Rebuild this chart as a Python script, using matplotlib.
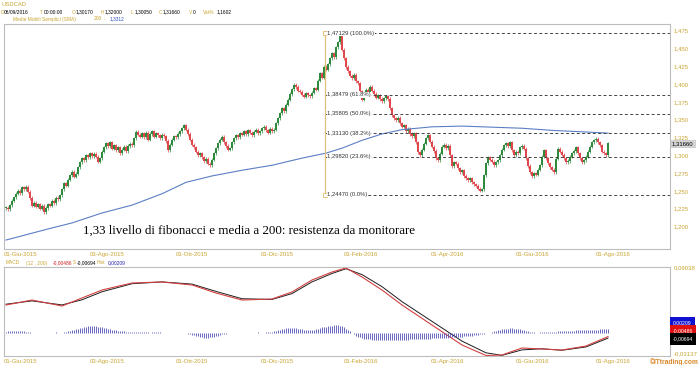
import numpy as np
import matplotlib.pyplot as plt

# USDCAD daily closes (one per candle)
closes = [
    1.226, 1.224, 1.230, 1.236, 1.241, 1.246,
    1.250, 1.247, 1.255, 1.252, 1.256,
    1.249, 1.240, 1.229,
    1.233, 1.228, 1.231, 1.225, 1.229, 1.220,
    1.226, 1.231, 1.229, 1.236, 1.233, 1.240, 1.238, 1.244,
    1.252, 1.261, 1.257, 1.266, 1.272, 1.277,
    1.270, 1.274, 1.283, 1.290,
    1.296, 1.293, 1.300, 1.297, 1.303, 1.299, 1.302, 1.298,
    1.291, 1.296, 1.305, 1.311,
    1.317, 1.313, 1.318, 1.309, 1.314, 1.307, 1.311, 1.303,
    1.308, 1.312, 1.306, 1.313, 1.316, 1.314,
    1.324, 1.333, 1.329, 1.326,
    1.331, 1.325, 1.332, 1.322, 1.330, 1.334, 1.326, 1.331, 1.328, 1.324, 1.329, 1.327,
    1.320, 1.307, 1.315,
    1.322, 1.327, 1.325, 1.330, 1.334, 1.338, 1.342,
    1.336, 1.330, 1.322, 1.315, 1.311,
    1.305, 1.300, 1.303, 1.297, 1.292, 1.295,
    1.288, 1.286,
    1.294, 1.303, 1.310, 1.317,
    1.322, 1.326, 1.318, 1.313, 1.308, 1.310,
    1.318, 1.324, 1.328, 1.325, 1.331,
    1.329, 1.334, 1.330, 1.335, 1.332, 1.328, 1.333, 1.336, 1.331, 1.334, 1.338, 1.340,
    1.335, 1.332, 1.337, 1.334, 1.336,
    1.345, 1.352, 1.359, 1.366, 1.362,
    1.371, 1.378, 1.386, 1.393, 1.399,
    1.396, 1.391, 1.389, 1.385, 1.382, 1.387, 1.384,
    1.383, 1.388, 1.394, 1.392,
    1.405, 1.415, 1.409, 1.424, 1.420,
    1.428, 1.436, 1.443, 1.438, 1.452, 1.459,
    1.467,
    1.448, 1.436, 1.424, 1.418,
    1.412, 1.408, 1.413, 1.404, 1.401,
    1.390, 1.378, 1.384,
    1.392, 1.389, 1.396, 1.391, 1.386,
    1.381, 1.384, 1.379, 1.376, 1.380,
    1.383, 1.379, 1.366, 1.356, 1.352,
    1.349, 1.353, 1.345, 1.340, 1.342,
    1.334, 1.337, 1.330, 1.327, 1.331,
    1.318, 1.304, 1.300, 1.308, 1.316,
    1.324, 1.328, 1.319, 1.312, 1.306,
    1.296, 1.293, 1.302,
    1.312, 1.315, 1.310, 1.313, 1.300,
    1.285, 1.290, 1.288, 1.282,
    1.276, 1.279, 1.271, 1.268,
    1.265, 1.268, 1.262, 1.259,
    1.257, 1.253, 1.250,
    1.252, 1.272, 1.289,
    1.297, 1.294, 1.291, 1.286, 1.290,
    1.293, 1.300, 1.308, 1.314,
    1.317, 1.313, 1.318, 1.307,
    1.300, 1.305, 1.303, 1.311,
    1.313, 1.309, 1.296, 1.285, 1.276,
    1.271, 1.275, 1.273, 1.280,
    1.286, 1.298, 1.307,
    1.296, 1.289, 1.283,
    1.280, 1.276, 1.295, 1.309,
    1.305, 1.301, 1.296, 1.290,
    1.292, 1.298, 1.303, 1.306,
    1.311, 1.303, 1.296,
    1.290, 1.293, 1.298,
    1.305, 1.312, 1.318, 1.321,
    1.323, 1.318, 1.314,
    1.305, 1.303, 1.3005, 1.3166,
]

# 200-day simple moving average (candle index, value)
sma_idx = [0, 23, 33, 48, 63, 78, 90, 103, 118, 133, 148, 160, 168, 178,
           188, 198, 213, 228, 248, 258, 273, 288, 301]
sma_val = [1.181, 1.198, 1.205, 1.219, 1.230, 1.246, 1.262, 1.271, 1.279,
           1.286, 1.296, 1.303, 1.310, 1.321, 1.330, 1.336, 1.340, 1.341,
           1.339, 1.338, 1.335, 1.333, 1.3312]

# MACD (12, 200) and signal line (candle index, value)
macd_idx = [0, 13, 28, 38, 48, 63, 78, 93, 105, 118, 133, 143, 153, 163,
            170, 178, 188, 198, 213, 228, 240, 248, 258, 268, 278, 290, 301]
macd_val = [0.0384, 0.0452, 0.0370, 0.0480, 0.0589, 0.0685, 0.0699, 0.0658,
            0.0548, 0.0452, 0.0466, 0.0562, 0.0726, 0.0835, 0.0890, 0.0767,
            0.0589, 0.0384, 0.0110, -0.0163, -0.0307, -0.0300, -0.0204,
            -0.0218, -0.0232, -0.0177, -0.00486]
signal_val = [0.0395, 0.0440, 0.0385, 0.0455, 0.0565, 0.0675, 0.0700, 0.0670,
              0.0570, 0.0470, 0.0460, 0.0540, 0.0700, 0.0815, 0.0880, 0.0800,
              0.0635, 0.0430, 0.0160, -0.0110, -0.0270, -0.0305, -0.0230,
              -0.0215, -0.0235, -0.0190, -0.00694]

# MACD histogram, in units of 1e-4
hist_e4 = [
    8, 10, 12, 11, 13, 14, 12, 10, 11, 9, 8, 6, 4, 3,
    2, 1, 2, 3, 2, 1, 0, 1, 2, 2, 3, 4, 3, 2, 3, 5, 7,
    9, 12, 15, 19, 22, 26, 29, 31, 34, 36, 38, 39, 40, 39, 38, 37, 35, 33, 30,
    28, 26, 23, 20, 18, 15, 13, 11, 10, 9, 8,
    7, 6, 6, 5, 6, 7, 8, 7, 6, 5, 4, 3, 4, 5, 6, 5, 4, 3, 2, 1, 0, -1, 0, 1,
    2, 3, 2, 1, 0, -2, -4, -7, -10, -13, -16,
    -19, -22, -24, -26, -27, -26, -25, -23, -20, -17, -14, -11, -8, -5, -3,
    -1, 0, 1, 2, 3, 2, 1, 0, 1, 2, 3, 2, 1, 2, 3, 4, 3, 2, 3, 4, 5, 6, 8, 10, 12,
    15, 18, 21, 24, 27, 29, 30, 31, 30, 28, 26, 24, 22, 20, 19, 18, 17, 18, 20, 23,
    26, 29, 32, 35, 37, 39, 41, 43, 44, 45, 44, 42, 38, 32, 25,
    17, 9, 1, -7, -14, -20, -25, -29, -32, -34,
    -35, -36, -37, -37, -38, -38, -39, -39, -40, -40, -40, -41, -41, -40, -40,
    -39, -39, -38, -38, -37, -37, -36, -36, -35, -35, -34, -34, -33, -33, -32,
    -32, -31, -30, -30, -29, -29, -28, -27, -27, -26, -26, -25, -24, -24, -23,
    -22, -21, -20, -19, -18, -17, -16, -14, -13, -11, -9, -7, -5, -3, -1,
    1, 3, 6, 9, 12, 15, 18, 21, 23, 25, 26,
    27, 27, 26, 25, 23, 21, 18, 15, 12, 9, 7,
    5, 4, 3, 3, 4, 5, 6, 6, 5, 5, 6, 7, 8,
    9, 10, 11, 12, 12, 13, 13, 14, 14, 15, 15, 16, 16, 17, 17, 18, 18, 19, 19,
    20, 20, 21, 21, 21, 21, 21,
]

fib_levels = [1.47129, 1.38479, 1.35805, 1.33130, 1.29820, 1.24470]
fib_labels = ["1,47129 (100.0%)", "1,38479 (61.8%)", "1,35805 (50.0%)",
              "1,33130 (38.2%)", "1,29820 (23.6%)", "1,24470 (0.0%)"]
fib_start = 159.5

date_pos = [7, 50.5, 93, 135.5, 177.5, 220.5, 263, 303.5]
date_labels = ["01-Giu-2015", "03-Ago-2015", "01-Ott-2015", "01-Dic-2015",
               "01-Feb-2016", "01-Apr-2016", "01-Giu-2016", "01-Ago-2016"]
price_ticks = [1.200, 1.225, 1.250, 1.275, 1.300, 1.325, 1.350, 1.375,
               1.400, 1.425, 1.450, 1.475]

YEL = "#c9a531"
UP, DOWN = "#2e8a3c", "#e0474c"
FONT = "Liberation Sans"
W, H = 700, 365


def fx(px):
    return px / W


def fy(py):
    return 1 - py / H


fig = plt.figure(figsize=(7, 3.65), dpi=100)
ax = fig.add_axes([fx(4), fy(249), fx(666), 225 / H])
ax2 = fig.add_axes([fx(4), fy(356), fx(666), 89 / H])

# candles
c = np.array(closes)
o = np.r_[c[0], c[:-1]]
x = np.arange(len(c))
wick = 0.0022
hi = np.maximum(o, c) + wick
lo = np.minimum(o, c) - wick
col = np.where(c >= o, UP, DOWN)
ax.vlines(x, lo, hi, colors=col, lw=0.5)
body = np.maximum(np.abs(c - o), 0.0008)
ax.bar(x, body, bottom=np.minimum(o, c), width=0.6, color=col, lw=0)

ax.plot(sma_idx, sma_val, color="#5b7fc4", lw=0.8)

xmax = 332
for lvl, lab in zip(fib_levels, fib_labels):
    ax.hlines(lvl, fib_start, xmax, colors="#444444", lw=0.7,
              linestyles=(0, (3, 2.5)))
    ax.text(fib_start + 1.2, lvl, lab, fontsize=4.2, family=FONT,
            color="#333333", va="center", ha="left",
            bbox=dict(fc="white", ec="none", pad=0.2))
ax.plot([fib_start, fib_start], [fib_levels[-1], fib_levels[0]],
        color="#e2c27a", lw=0.9)
ax.plot([fib_start, fib_start], [fib_levels[-1], fib_levels[0]], ls="none",
        marker="s", ms=3.5, mfc="white", mec="#e2c27a", mew=0.7)

ax.set_xlim(-1, xmax)
ax.set_ylim(1.1684, 1.4844)
ax.yaxis.tick_right()
ax.set_yticks(price_ticks)
ax.set_yticklabels([f"{v:.3f}".replace(".", ",") for v in price_ticks])
ax.set_xticks(date_pos)
ax.set_xticklabels(date_labels)
ax.tick_params(length=0, labelsize=4.3, labelcolor=YEL, pad=2.5)
for lab in ax.get_xticklabels() + ax.get_yticklabels():
    lab.set_family(FONT)

ax.text(1.003, 1.3166, "1,31660", transform=ax.get_yaxis_transform(),
        fontsize=4.3, family=FONT, color="black", va="center", ha="left",
        bbox=dict(fc="#d4d4d4", ec="#bbbbbb", lw=0.4, pad=1.0))

# MACD panel; histogram drawn on its own (hidden) scale as in the source chart
ax2.plot(macd_idx, signal_val, color="#1e1e1e", lw=0.7)
ax2.plot(macd_idx, macd_val, color="#d24040", lw=0.8)
ax2.set_xlim(-1, xmax)
ax2.set_ylim(-0.03137, 0.09038)
axh = ax2.twinx()
axh.vlines(np.arange(len(hist_e4)), 0, np.array(hist_e4) * 1e-4,
           colors="#5050b8", lw=0.6)
axh.set_ylim(-0.03137 / 2.4, 0.09038 / 2.4)
axh.set_axis_off()

ax2.yaxis.tick_right()
ax2.set_yticks([0.09038, -0.03137])
ax2.set_yticklabels(["0,09038", "-0,03137"])
ax2.set_xticks(date_pos)
ax2.set_xticklabels(date_labels)
ax2.tick_params(length=0, labelsize=4.3, labelcolor=YEL, pad=2.5)
for lab in ax2.get_xticklabels() + ax2.get_yticklabels():
    lab.set_family(FONT)
ax2.get_yticklabels()[1].set_va("bottom")

box_y = [323, 331, 339]
box_txt = ["0,00209", "-0,00486", "-0,00694"]
box_bg = ["#1010d0", "#e01010", "#000000"]
for py, t, bg in zip(box_y, box_txt, box_bg):
    fig.text(fx(673), fy(py), t, fontsize=3.7, family=FONT, color="white",
             ha="left", va="center",
             bbox=dict(fc=bg, ec="none", pad=0.6, boxstyle="square"))

for a in (ax, ax2):
    for s in a.spines.values():
        s.set_color("#bdbdbd")
        s.set_linewidth(0.8)


def segs(py, parts, size=3.5):
    for px, t, cl in parts:
        fig.text(fx(px), fy(py), t, fontsize=size, family=FONT, color=cl,
                 ha="left", va="center")


segs(5, [(2, "USDCAD", YEL)], size=4.2)
segs(12, [(1, "D", YEL), (4, "06/09/2016", "black"), (40, "T", YEL),
          (44, "00:00:00", "black"), (72, "O", YEL), (76, "1,30170", "black"),
          (101, "H", YEL), (105, "1,32000", "black"), (131, "L", YEL),
          (135, "1,30050", "black"), (159, "C", YEL), (163, "1,31660", "black"),
          (189, "V", YEL), (193, "0", "black"), (203, "Var%", YEL),
          (217, "1,1602", "black")])
segs(19, [(13, "Medie Mobili Semplici (SMA)", YEL), (94, "200", YEL),
          (104, ":", YEL), (110, "1,3312", "#3050c0")])
segs(263, [(6, "MACD", YEL), (26, "(12 , 200)", YEL), (53, "-0,00486", "#d02020"),
           (73, "S", YEL), (77, "-0,00694", "black"), (97, "Hist", YEL),
           (108, "0,00209", "#2020b0")])

fig.text(fx(83), fy(231), "1,33 livello di fibonacci e media a 200: resistenza da monitorare",
         fontsize=9.4, family="Liberation Serif", color="black", ha="left", va="center")
fig.text(fx(699), fy(362), "\u00a9ITtrading.com", fontsize=4.8, family=FONT,
         color="#d9892a", weight="bold", ha="right", va="center")

fig.savefig("out.png", dpi=100, facecolor="white")
